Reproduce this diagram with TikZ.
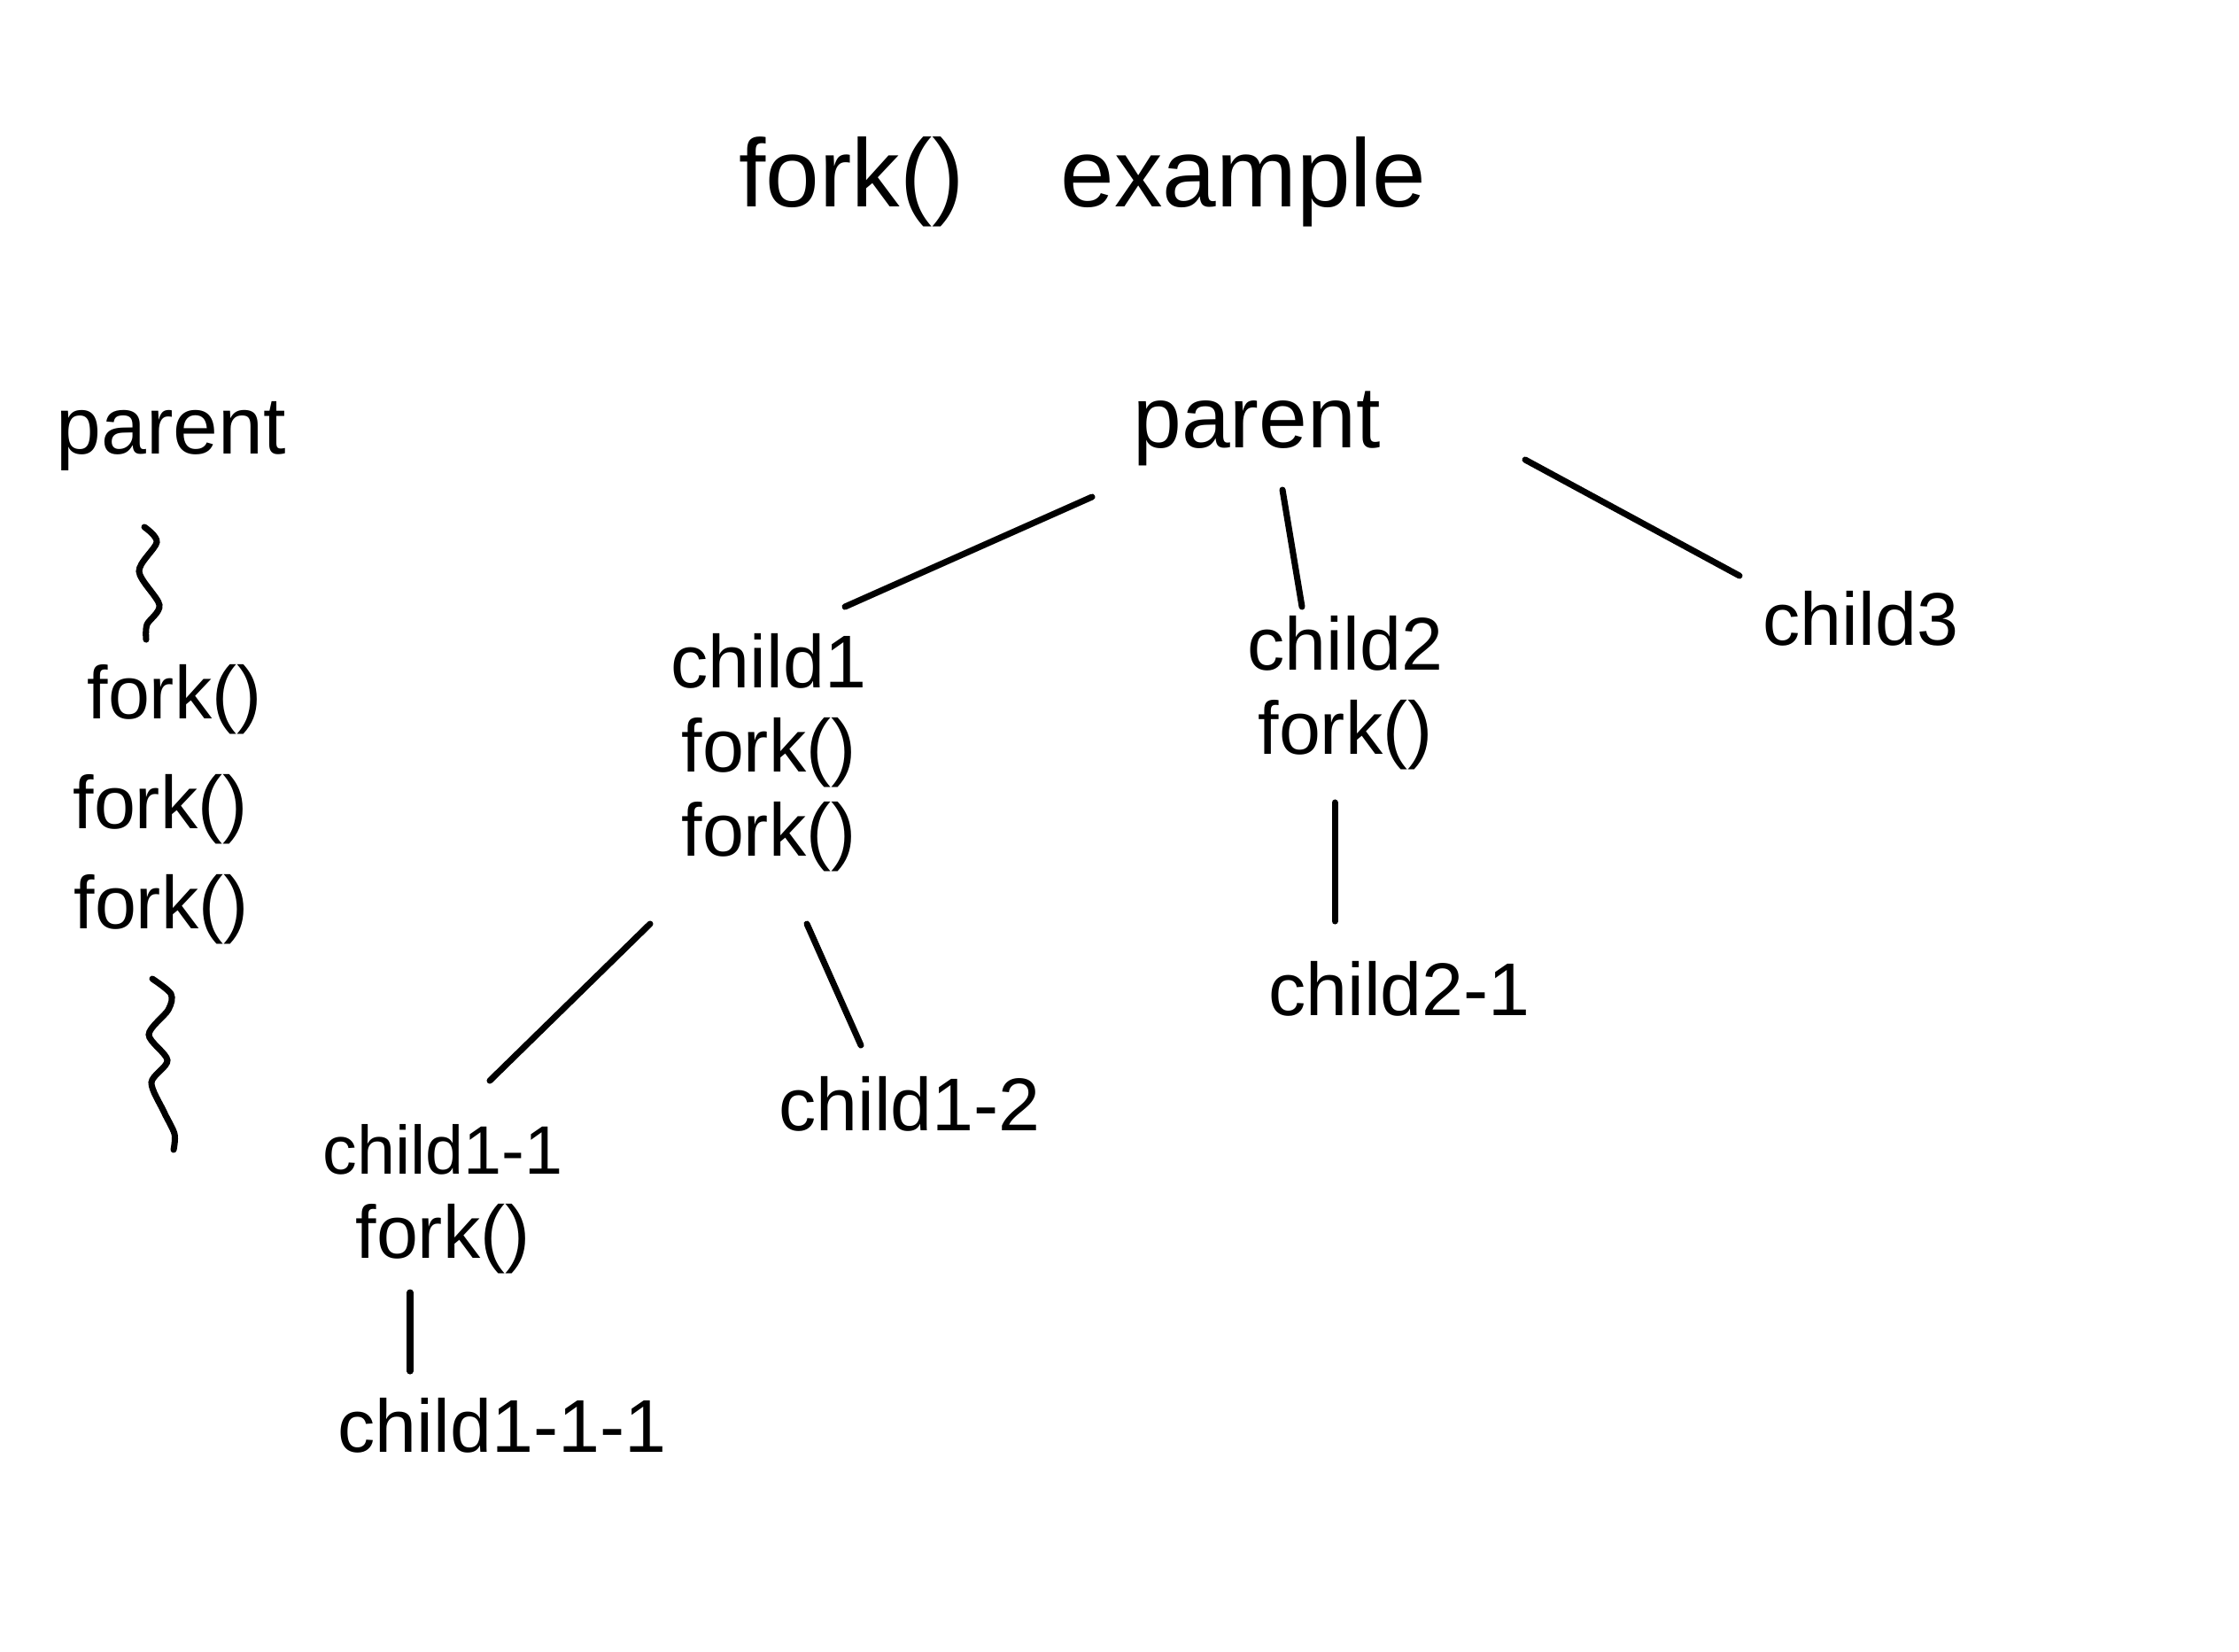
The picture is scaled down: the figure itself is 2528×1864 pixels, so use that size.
\documentclass[tikz,border=0pt]{standalone}
\usepackage{fontspec}
\setmainfont{Liberation Sans}
\tikzset{x=0.01cm, y=-0.01cm,
         label/.style={inner sep=0pt, align=center,
           font=\fontsize{24}{27}\selectfont},
         every edge/.style={ % the hand drawn strokes
           draw,
           line width=2pt,
           line cap=round}}

\begin{document}
\begin{tikzpicture}
\useasboundingbox (0,0) rectangle (2528,1864);

\node[inner sep=0pt, font=\fontsize{31}{36}\selectfont] (title) at (1222,205) {fork()\quad example};

% left column
\begin{scope}[every node/.style={label}]
    \node (lparent) at (193,492) {\fontsize{26}{30}\selectfont parent};
    \node (lfork1) at (197,790) {fork()};
    \node (lfork2) at (181,914) {fork()};
    \node (lfork3) at (182,1027) {fork()};
\end{scope}

\draw[line width=2pt, line cap=round] plot[smooth] coordinates
    {(163,595) (177,612) (157,645) (180,683) (166,705) (165,722)};
\draw[line width=2pt, line cap=round] plot[smooth] coordinates
    {(172,1105) (193,1122) (190,1140) (168,1168) (189,1197) (171,1222) (185,1255) (197,1280) (196,1298)};

% the tree
\begin{scope}[every node/.style={label}]
    \node (parent) at (1419,484) {\fontsize{28}{32}\selectfont parent};
    \node (child1) at (868,850) {child1\\fork()\\fork()};
    \node (child2) at (1519,782) {child2\\fork()};
    \node (child3) at (2101,698) {child3};
    \node (child11) at (500,1354) {\fontsize{22}{27}\selectfont child1-1\\fork()};
    \node (child12) at (1027,1246) {child1-2};
    \node (child21) at (1580,1116) {child2-1};
    \node (child111) at (567,1609) {child1-1-1};
\end{scope}

\begin{scope}
    \path ([shift={(-186,77)}]parent.center) edge ([shift={(86,-165)}]child1.center);
    \path ([shift={(29,69)}]parent.center) edge ([shift={(-49,-97)}]child2.center);
    \path ([shift={(303,35)}]parent.center) edge ([shift={(-137,-48)}]child3.center);
    \path ([shift={(-134,193)}]child1.center) edge ([shift={(53,-134)}]child11.center);
    \path ([shift={(43,193)}]child1.center) edge ([shift={(-55,-66)}]child12.center);
    \path ([shift={(-12,124)}]child2.center) edge ([shift={(-73,-76)}]child21.center);
    \path ([shift={(-37,105)}]child11.center) edge ([shift={(-104,-61)}]child111.center);
\end{scope}
\end{tikzpicture}
\end{document}
